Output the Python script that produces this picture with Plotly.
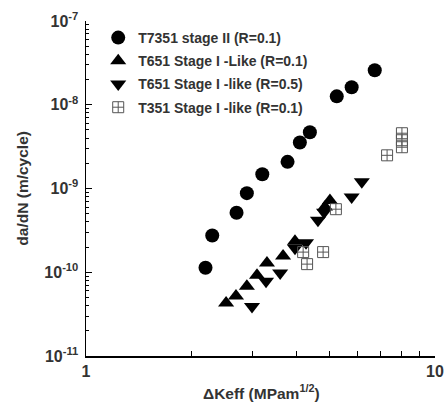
import plotly.graph_objects as go

# T7351 stage II (R=0.1)
t7351_dk = [2.20, 2.30, 2.70, 2.89, 3.20, 3.78, 4.10, 4.38, 5.23, 5.77, 6.72]
t7351_da = [1.13e-10, 2.75e-10, 5.13e-10, 8.8e-10, 1.48e-9, 2.08e-9, 3.54e-9, 4.70e-9, 1.26e-8, 1.62e-8, 2.58e-8]

# T651 Stage I-Like (R=0.1)
t651a_dk = [2.52, 2.69, 2.89, 3.09, 3.30, 3.67, 3.97, 4.84, 5.00]
t651a_da = [4.3e-11, 5.2e-11, 6.8e-11, 9.2e-11, 1.29e-10, 1.56e-10, 2.35e-10, 6.0e-10, 7.2e-10]

# T651 Stage I-like (R=0.5)
t651b_dk = [2.99, 3.28, 3.60, 3.97, 4.27, 4.62, 4.81, 5.77, 6.17]
t651b_da = [3.9e-11, 7.8e-11, 9.8e-11, 1.94e-10, 2.25e-10, 4.19e-10, 5.2e-10, 7.9e-10, 1.2e-9]

# T351 Stage I-like (R=0.1)
t351_dk = [4.19, 4.30, 4.78, 5.20, 7.29, 8.04, 8.04, 8.04]
t351_da = [1.74e-10, 1.25e-10, 1.74e-10, 5.66e-10, 2.49e-9, 4.57e-9, 3.77e-9, 3.11e-9]

names = ["T7351 stage II (R=0.1)", "T651 Stage I -Like (R=0.1)",
         "T651 Stage I -like (R=0.5)", "T351 Stage I -like (R=0.1)"]

y_tickvals = [1e-11, 1e-10, 1e-9, 1e-8, 1e-7]
y_ticktext = ["10<sup>-11</sup>", "10<sup>-10</sup>", "10<sup>-9</sup>", "10<sup>-8</sup>", "10<sup>-7</sup>"]
x_tickvals = [1, 10]
x_ticktext = ["1", "10"]

x_title = "ΔKeff (MPam<sup>1/2</sup>)"
y_title = "da/dN (m/cycle)"

FONT = "Arial, Liberation Sans, sans-serif"
TXT = "#333333"

fig = go.Figure()
fig.add_trace(go.Scatter(x=t7351_dk, y=t7351_da, mode="markers", name=names[0], legendgroup="a",
                         marker=dict(symbol="circle", size=14, color="black")))
fig.add_trace(go.Scatter(x=t651a_dk, y=t651a_da, mode="markers", name=names[1], legendgroup="b",
                         marker=dict(symbol="triangle-up", size=14, color="black")))
fig.add_trace(go.Scatter(x=t651b_dk, y=t651b_da, mode="markers", name=names[2], legendgroup="c",
                         marker=dict(symbol="triangle-down", size=14, color="black")))
fig.add_trace(go.Scatter(x=t351_dk, y=t351_da, mode="markers", name=names[3], legendgroup="d",
                         marker=dict(symbol="square-cross-open", size=11, color="#555555",
                                     line=dict(width=1, color="#555555"))))

tickfont = dict(family=FONT, size=16, color=TXT, weight="bold")
titlefont = dict(family=FONT, size=15.5, color=TXT, weight="bold")

fig.update_layout(
    width=444, height=408,
    margin=dict(l=86, r=9, t=21, b=52, autoexpand=False),
    paper_bgcolor="white", plot_bgcolor="white",
    font=dict(family=FONT, color=TXT, size=14, weight="bold"),
    showlegend=True,
    hovermode=False,
    legend=dict(x=0.035, y=0.997, xanchor="left", yanchor="top",
                font=dict(family=FONT, size=14, color=TXT, weight="bold"),
                bgcolor="rgba(0,0,0,0)", tracegroupgap=2, traceorder="grouped"),
    xaxis=dict(type="log", range=[0, 1], showgrid=False, zeroline=False, automargin=False,
               showline=True, linecolor="black", linewidth=1.5,
               ticks="inside", ticklen=6, tickcolor="black",
               tickmode="array", tickvals=x_tickvals, ticktext=x_ticktext, tickfont=tickfont,
               minor=dict(ticks="inside", ticklen=5, tickcolor="black", showgrid=False,
                          dtick="D1")),
    yaxis=dict(type="log", range=[-11, -7], showgrid=False, zeroline=False, automargin=False,
               showline=True, linecolor="black", linewidth=1.5,
               ticks="inside", ticklen=6, tickcolor="black", ticklabelstandoff=3,
               tickmode="array", tickvals=y_tickvals, ticktext=y_ticktext, tickfont=tickfont,
               minor=dict(ticks="inside", ticklen=3, tickcolor="black", showgrid=False,
                          dtick="D1")),
    annotations=[
        dict(text=x_title, xref="paper", yref="paper", x=0.504, y=-0.107,
             xanchor="center", yanchor="middle", showarrow=False, font=titlefont),
        dict(text=y_title, xref="paper", yref="paper", x=-0.183, y=0.5, textangle=-90,
             xanchor="center", yanchor="middle", showarrow=False, font=titlefont),
    ],
)

# remove the default 8px page margin so the 444x408 figure fills the window exactly
fig.write_html("out.html",
               config={"staticPlot": True, "displayModeBar": False},
               post_script="document.body.style.margin='0';document.body.style.overflow='hidden';")
